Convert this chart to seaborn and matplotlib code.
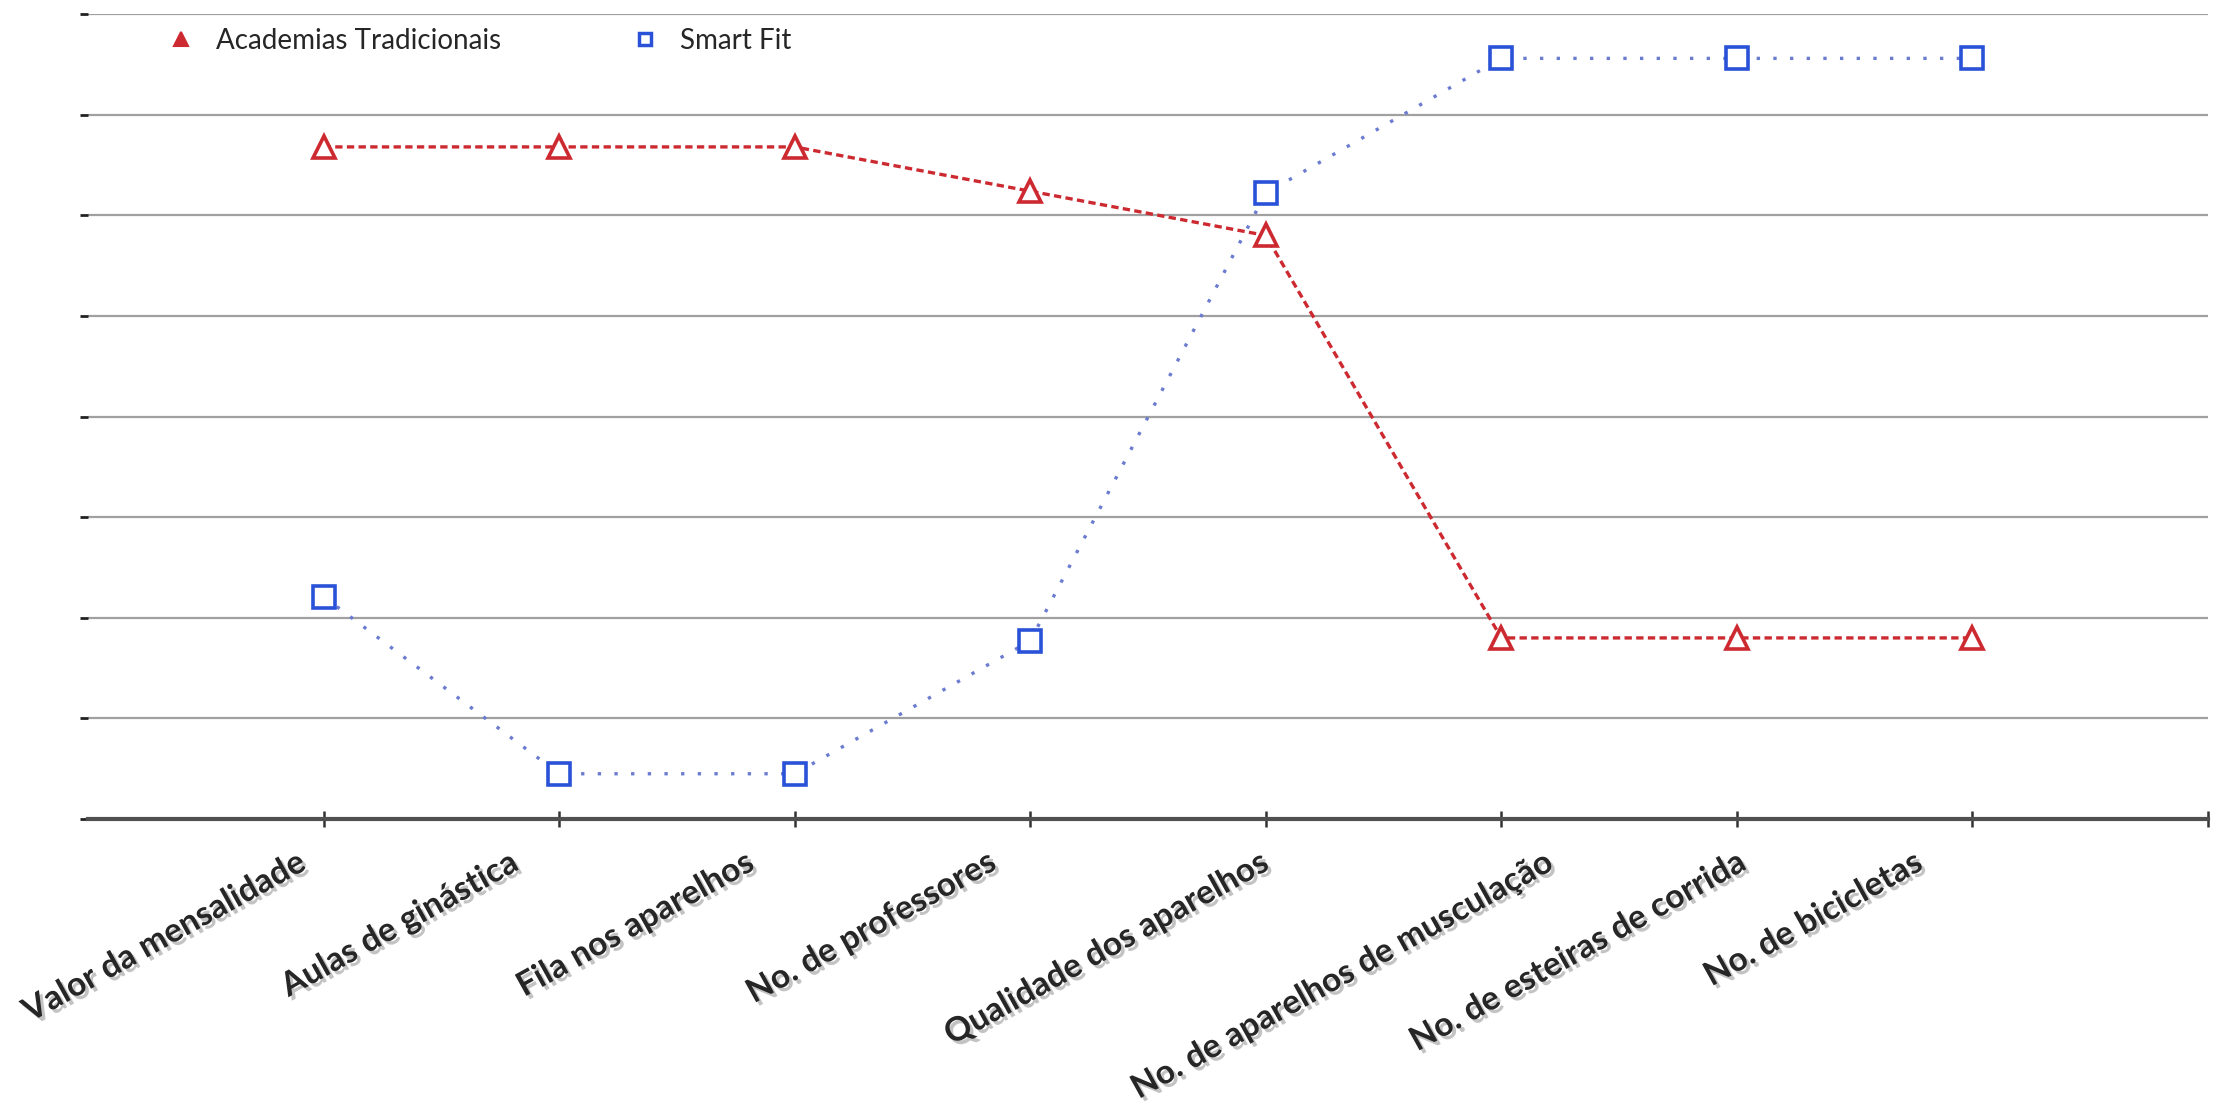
import matplotlib
matplotlib.use('Agg')
import matplotlib.pyplot as plt
import matplotlib.patheffects as pe
from matplotlib.lines import Line2D
from matplotlib.transforms import ScaledTranslation
import pandas as pd
import seaborn as sns

# chart data
categories = ['Valor da mensalidade', 'Aulas de ginástica', 'Fila nos aparelhos',
              'No. de professores', 'Qualidade dos aparelhos',
              'No. de aparelhos de musculação', 'No. de esteiras de corrida',
              'No. de bicicletas']
series_names = ['Academias Tradicionais', 'Smart Fit']
tradicionais = [6.68, 6.68, 6.68, 6.24, 5.80, 1.80, 1.80, 1.80]
smart_fit = [2.21, 0.45, 0.45, 1.77, 6.22, 7.56, 7.56, 7.56]

df = pd.DataFrame({
    'categoria': categories * 2,
    'valor': tradicionais + smart_fit,
    'serie': [series_names[0]] * len(categories) + [series_names[1]] * len(categories),
})

sns.set_style('white')
plt.rcParams['font.family'] = ['Lato', 'DejaVu Sans']

red = '#cc2a30'
blue = '#2a52d8'
blue_line = '#6a7bd0'

fig = plt.figure(figsize=(22.22, 11.01), dpi=100)
ax = fig.add_axes([0.0396, 0.2561, 0.9541, 0.7311])

sns.lineplot(data=df, x='categoria', y='valor', hue='serie', style='serie',
             palette={series_names[0]: red, series_names[1]: blue_line},
             markers={series_names[0]: '^', series_names[1]: 's'},
             dashes={series_names[0]: (2.2, 1.3), series_names[1]: (1, 4)},
             linewidth=2.4, markersize=16, sort=False, legend=False, ax=ax)

# outlined markers with white fill
for line, col in zip(ax.lines, [red, blue]):
    line.set_markerfacecolor('white')
    line.set_markeredgecolor(col)
    line.set_markeredgewidth(2.6)
    line.set_zorder(3)

ax.set_xlim(-1, 8)
ax.set_ylim(0, 8)
ax.set_xlabel('')
ax.set_ylabel('')

# horizontal gridlines, no y labels
ax.set_yticks(range(9))
ax.set_yticklabels([])
ax.yaxis.grid(True, color='#a0a0a0', linewidth=1.6)
ax.xaxis.grid(False)
ax.tick_params(axis='y', direction='out', length=6, width=2, color='#222222', left=True)

for s in ['left', 'top', 'right']:
    ax.spines[s].set_visible(False)
ax.spines['bottom'].set_color('#505050')
ax.spines['bottom'].set_linewidth(3)

ax.set_xticks(range(9))
ax.set_xticklabels(categories + [''], rotation=29, ha='center', va='top',
                   fontsize=24, fontweight='bold')
ax.tick_params(axis='x', direction='inout', length=12, width=1.8, color='#333333', pad=0, bottom=True)

shadow = [pe.withSimplePatchShadow(offset=(2.5, -2.5), shadow_rgbFace='#888888', alpha=0.5)]
offset = ScaledTranslation(-1.59, -0.2, fig.dpi_scale_trans)
for lab in ax.get_xticklabels():
    lab.set_transform(lab.get_transform() + offset)
    lab.set_path_effects(shadow)

# legend
handles = [
    Line2D([], [], linestyle='none', marker='^', markersize=10, markerfacecolor=red,
           markeredgecolor=red, markeredgewidth=1.5),
    Line2D([], [], linestyle='none', marker='s', markersize=8, markerfacecolor='white',
           markeredgecolor=blue, markeredgewidth=2.5),
]
ax.legend(handles, series_names, loc='center left', bbox_to_anchor=(167 / 2222, 1 - 41 / 1101),
          bbox_transform=fig.transFigure, ncol=2, frameon=False, fontsize=20,
          handlelength=1, handletextpad=0.75, columnspacing=4.7, borderpad=0, borderaxespad=0)

fig.savefig('out.png', dpi=100)
